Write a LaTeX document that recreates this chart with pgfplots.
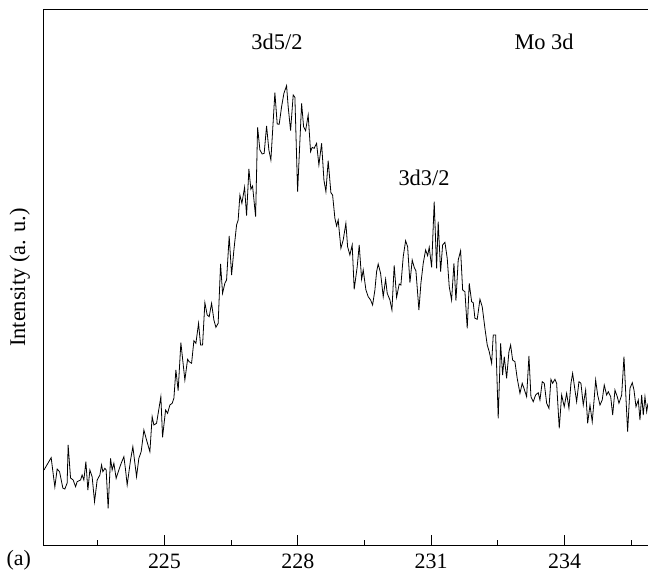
\documentclass[border=0pt]{standalone}
\usepackage{fontspec}
\setmainfont{Liberation Serif}
\usepackage{pgfplots}
\pgfplotsset{compat=1.18}
\pgfplotstableread{
E I
222.29 75
222.451 87.3
222.534 58
222.586 76
222.640 73.3
222.714 57
222.759 56
222.811 62
222.833 100
222.887 67
222.946 65
223.000 58.3
223.036 63.3
223.112 65
223.148 70
223.187 65
223.232 83.3
223.277 55
223.322 75
223.373 68.3
223.427 43.3
223.486 65
223.547 70
223.585 80
223.614 73.3
223.659 76.7
223.688 75
223.733 36.7
223.787 86.7
223.823 75
223.862 81.7
223.913 66.7
223.974 75
224.026 81.7
224.087 88.3
224.125 75
224.161 60
224.237 85
224.289 98.3
224.372 68.3
224.424 86.7
224.476 93.3
224.537 115
224.597 105
224.672 93.3
224.723 128.3
224.762 120
224.822 121.7
224.919 148.3
224.957 107.7
225.025 135
225.070 131.7
225.122 140
225.173 141.7
225.212 146.7
225.257 175
225.308 154.3
225.369 202.3
225.459 165
225.520 185.7
225.556 183.3
225.610 181.7
225.662 204.3
225.707 201.7
225.767 221.7
225.812 200
225.857 200
225.909 242.3
225.961 230
226.006 228.3
226.060 241.7
226.112 225
226.157 217.7
226.208 221.7
226.262 281
226.307 251.7
226.359 261.7
226.397 265
226.456 309
226.510 270
226.562 295
226.622 320
226.658 325
226.697 350
226.742 341.7
226.802 357.7
226.847 329.3
226.899 376
226.944 355.7
226.982 359
227.050 328.3
227.095 417.7
227.147 395
227.198 391
227.243 391.7
227.297 419
227.349 395
227.394 385
227.484 452.3
227.536 421
227.581 420.7
227.635 438.3
227.687 451.7
227.747 459.3
227.783 438.3
227.837 414.3
227.896 450
227.934 447.7
227.995 353.3
228.085 441.7
228.130 418.3
228.175 414.3
228.233 430
228.287 393.3
228.323 397.7
228.368 396.7
228.422 401.7
228.474 380
228.535 401.7
228.587 365
228.632 353.3
228.683 384.3
228.744 352.3
228.782 350
228.834 326.7
228.872 319
228.908 325
228.969 296.7
229.021 305
229.081 321.7
229.120 298.3
229.171 290
229.223 300
229.268 255.7
229.336 278.3
229.381 300
229.435 265.7
229.471 275
229.532 255
229.583 248.3
229.637 245
229.682 240
229.734 255
229.772 273.3
229.808 281
229.862 271.7
229.921 248.3
229.975 265.7
230.011 251.7
230.072 245
230.117 235
230.168 279.7
230.222 247.7
230.281 261
230.319 260
230.371 288.3
230.425 304.3
230.470 298.3
230.522 262.3
230.573 285
230.618 277.7
230.657 274
230.724 235
230.769 261.7
230.821 281.7
230.875 295
230.920 289.3
230.956 297.7
231.010 277.7
231.068 343.3
231.122 276.7
231.158 323.3
231.212 273.3
231.257 300
231.309 302.7
231.361 286.7
231.406 258.3
231.459 245
231.512 281.7
231.557 244.3
231.608 285
231.662 294.3
231.708 255
231.759 253.3
231.811 216.7
231.856 261.7
231.910 243.3
231.946 242.3
231.984 226.7
232.036 225.7
232.097 245.7
232.148 238.3
232.209 216.7
232.261 200
232.306 193.3
232.360 181.7
232.396 210
232.450 210
232.508 126.7
232.562 201.7
232.607 170
232.644 188.3
232.697 166.7
232.749 193.3
232.787 200
232.832 185
232.884 183.3
232.935 166.7
232.997 151.7
233.048 161.7
233.087 156.7
233.147 148.3
233.199 189
233.244 148.3
233.296 143.3
233.349 150
233.408 152.3
233.447 145
233.498 163.3
233.544 161.7
233.598 141.7
233.649 136.7
233.694 165.7
233.732 161.7
233.784 165.7
233.822 161.7
233.881 116.7
233.935 150
233.993 138.3
234.047 151.7
234.099 136.7
234.144 161.7
234.182 171.7
234.234 155
234.272 143.3
234.324 163.3
234.369 161.7
234.421 140
234.475 155
234.520 121.7
234.572 140
234.623 123.3
234.668 146.7
234.700 165
234.745 150
234.797 140
234.848 145
234.893 160
234.947 150
234.984 153.3
235.038 148.3
235.083 130
235.134 155
235.186 148.3
235.224 141.7
235.285 150
235.337 188.3
235.382 146.7
235.419 113.3
235.472 156.7
235.524 162.3
235.562 155
235.607 138.3
235.659 145
235.697 125
235.735 150
235.771 130
235.809 148.3
235.848 133.3
235.877 141.7
}\spectrum
\begin{document}
\fontsize{22.5}{27}\selectfont
\begin{tikzpicture}
\path[use as bounding box] (-44bp,-27bp) rectangle (604bp,545bp);
\begin{axis}[
  at={(0,0)}, anchor=south west,
  scale only axis, width=609bp, height=535bp,
  xmin=222.29, xmax=235.99, ymin=0, ymax=535,
  xtick={225,228,231,234},
  minor xtick={223.5,226.5,229.5,232.5,235.5},
  ytick=\empty,
  xtick pos=bottom,
  tick align=inside,
  major tick length=10bp, minor tick length=5bp,
  every tick/.style={black, line width=1bp},
  axis line style={line width=1bp},
  /pgf/number format/assume math mode=true,
  xticklabel style={font=\fontsize{22}{26}\selectfont, yshift=-1bp},
  ylabel={Intensity (a. u.)},
  ylabel style={at={(axis description cs:-0.0397,0.5)}, anchor=center, font=\fontsize{22.5}{27}\selectfont},
  clip=true,
]
\addplot[black, line width=0.8bp] table[x=E, y=I] {\spectrum};
\node[font=\fontsize{22.5}{27}\selectfont] at (axis cs:227.53,503) {3d5/2};
\node[font=\fontsize{22.5}{27}\selectfont] at (axis cs:230.84,367) {3d3/2};
\node[font=\fontsize{22.5}{27}\selectfont] at (axis cs:233.54,503) {Mo 3d};
\end{axis}
\node[anchor=base west, font=\fontsize{22}{26}\selectfont] at (-45bp,-20bp) {(a)};
\end{tikzpicture}
\end{document}
